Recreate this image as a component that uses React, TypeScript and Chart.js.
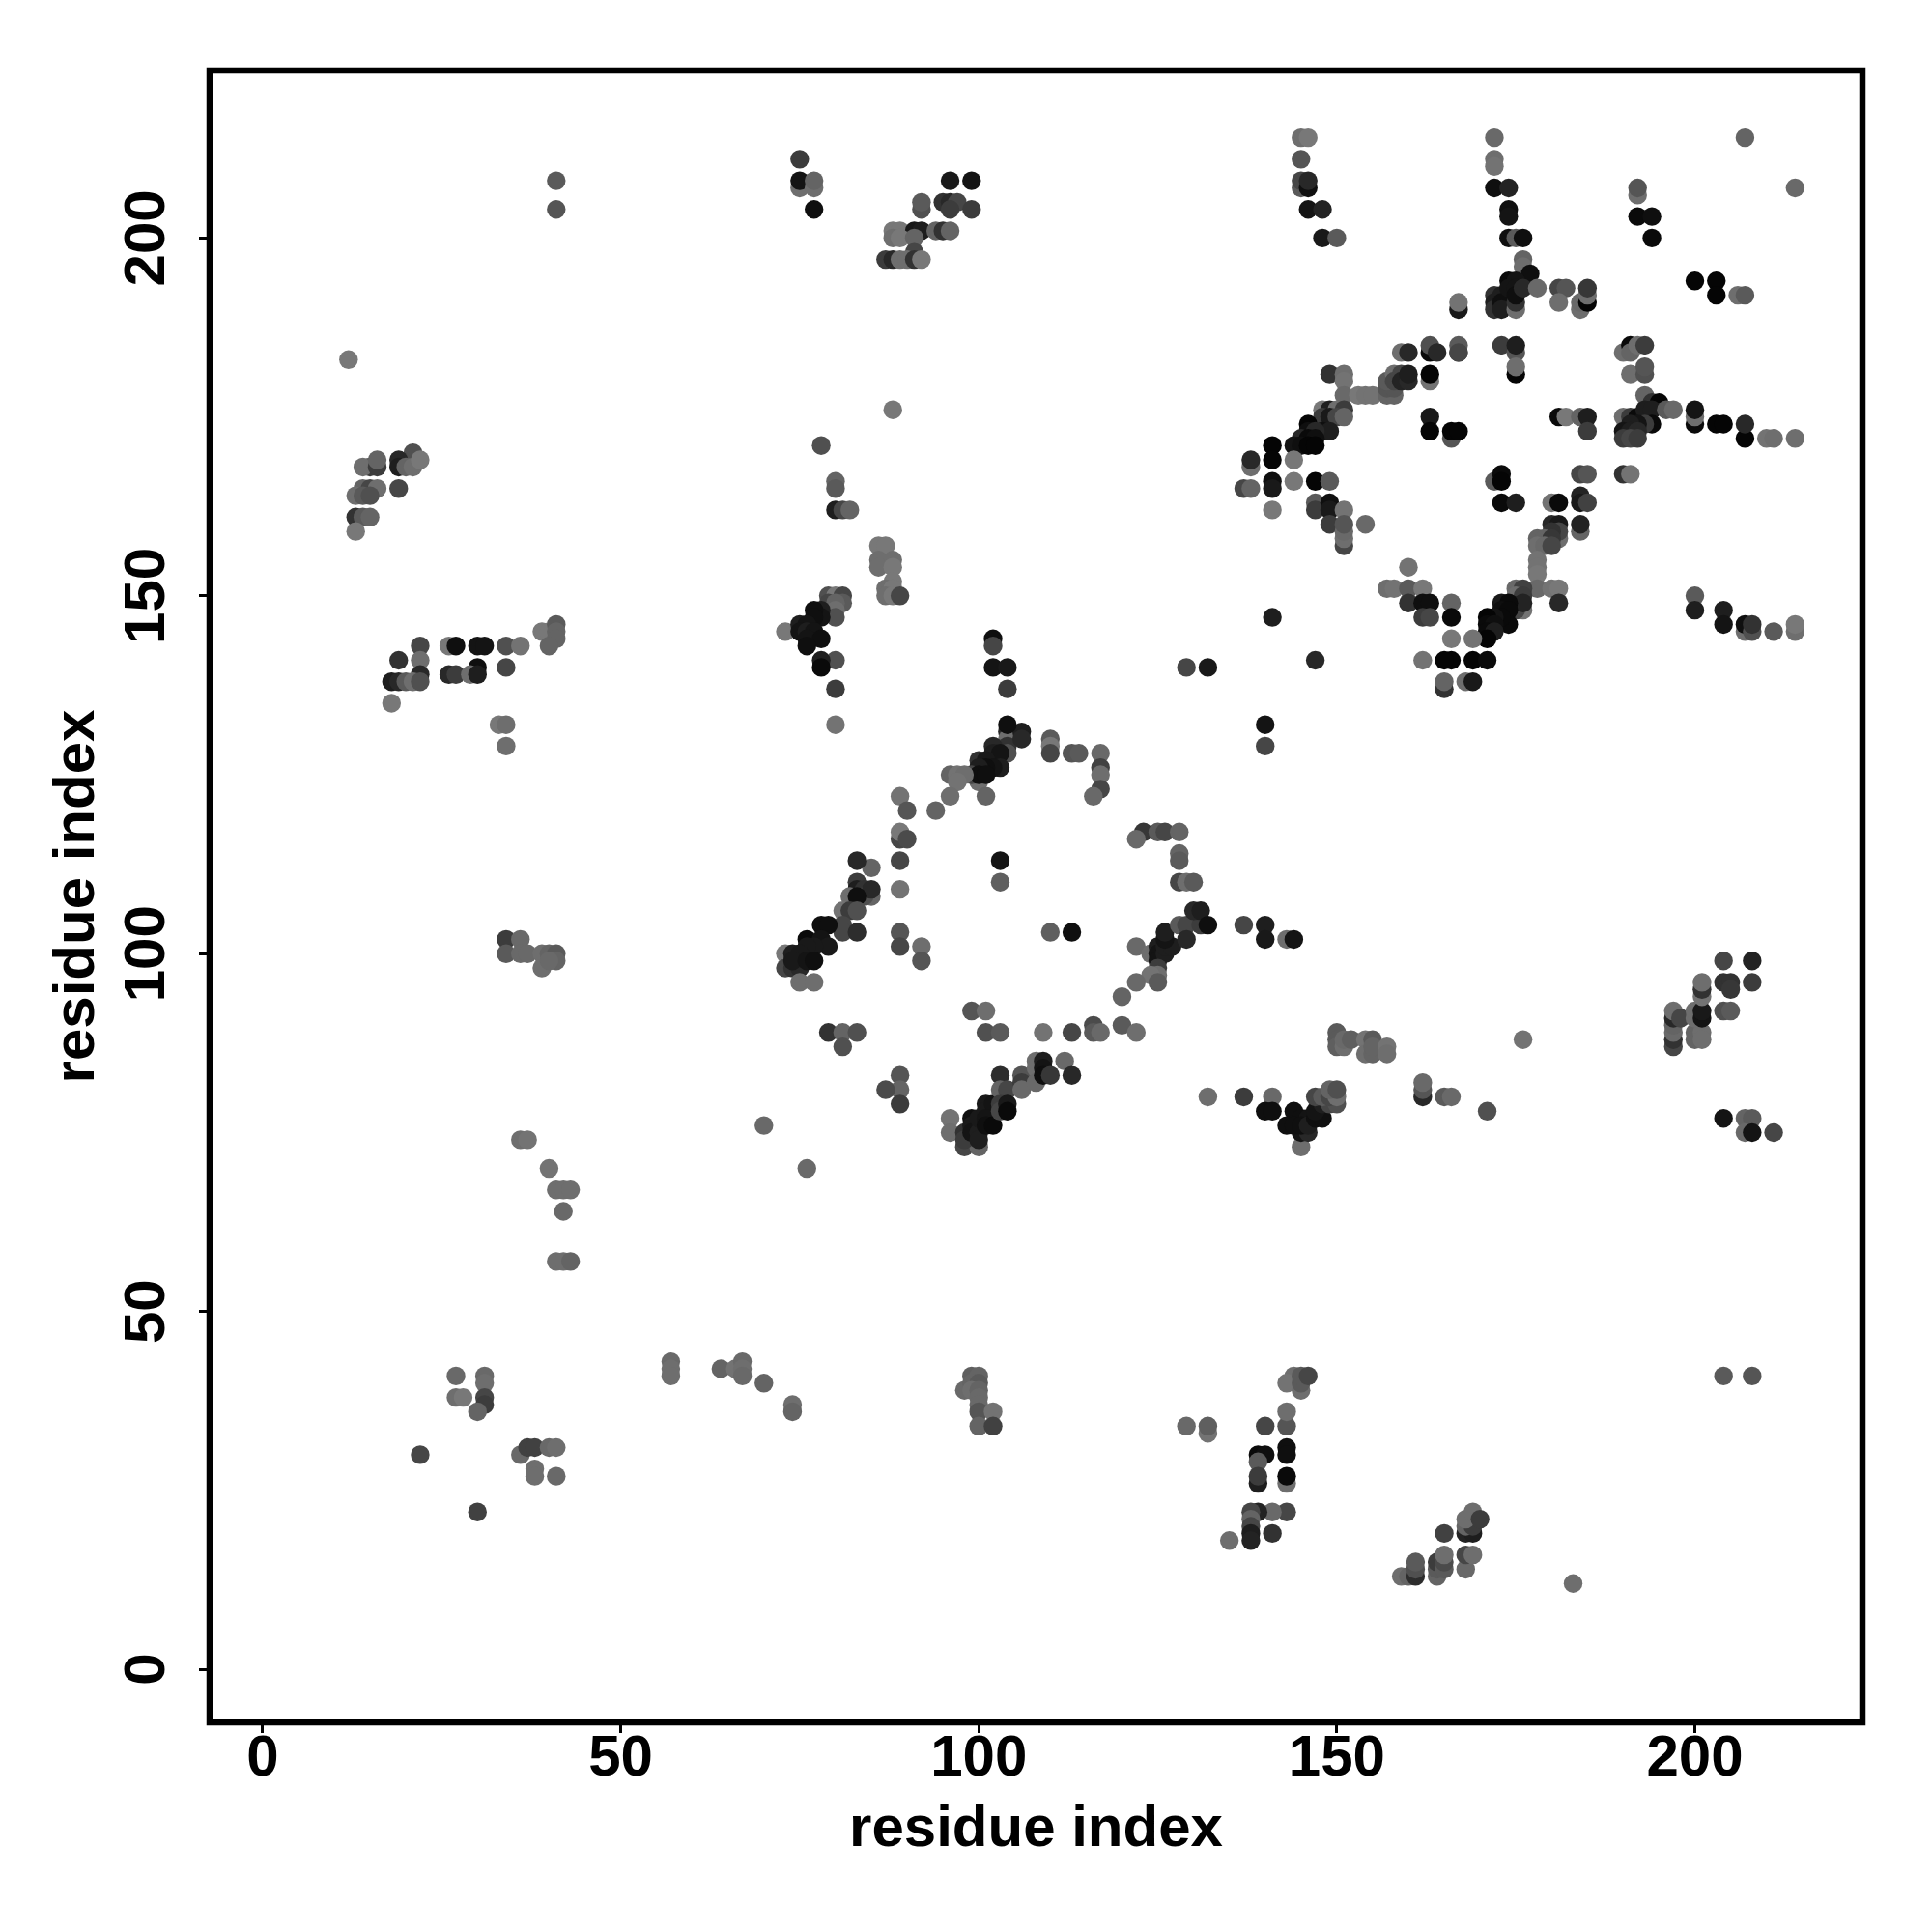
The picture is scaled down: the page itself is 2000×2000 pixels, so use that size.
import React, { useEffect, useRef } from "react";
import { Chart, registerables } from "chart.js";

Chart.register(...registerables);

// Each entry: [residue x, residue y, grey level]
const farLeft = [[41,208,90],[41,204,85],[12,183,120]];
const helixA = [[21,170,80],[19,169,40],[19,168,30],[20,168,100],[21,168,110],[22,169,120],[15,168,60],[14,168,110],[16,168,60],[16,169,100],[19,165,70],[14,165,100],[15,165,70],[16,165,110],[13,164,110],[14,164,90],[15,164,80],[13,161,50],[14,161,90],[15,161,100],[13,159,120]];
const stripA = [[26,143,120],[27,143,15],[30,143,20],[31,143,20],[22,143,70],[34,143,80],[36,143,115],[19,141,50],[22,141,110],[30,140,15],[34,140,70],[26,139,40],[27,139,60],[29,139,110],[30,139,30],[22,139,40],[18,138,30],[19,138,40],[20,138,90],[21,138,110],[22,138,80],[18,135,120],[33,132,120],[34,132,110],[34,129,110],[39,145,120],[40,145,120],[41,146,90],[41,145,100],[41,144,100],[40,143,100]];
const topA = [[75,211,60],[75,207,110],[75,208,20],[77,207,110],[77,208,100],[77,204,15]];
const topB = [[96,208,25],[99,208,20],[95,205,50],[96,205,40],[97,205,70],[96,204,60],[99,204,60],[92,204,80],[92,205,90],[88,201,120],[89,201,120],[91,201,25],[92,201,30],[94,201,100],[95,201,50],[96,201,100],[88,200,110],[89,200,120],[91,200,100],[91,198,70],[87,197,60],[88,197,40],[89,197,110],[90,197,110],[91,197,50],[92,197,120]];
const midColumn = [[88,176,120],[78,171,80],[80,166,100],[80,165,90],[80,162,30],[81,162,70],[82,162,100],[86,157,120],[87,157,120],[86,155,110],[88,155,110],[86,154,110],[88,154,120],[88,152,120],[87,151,110],[88,151,120],[87,150,110],[88,150,120],[89,150,70]];
const blackKnot = [[73,145,120],[79,150,80],[80,150,120],[81,150,70],[79,149,70],[81,149,90],[80,149,100],[80,148,110],[80,147,80],[78,148,30],[78,147,20],[77,148,15],[77,147,15],[75,146,30],[76,146,20],[75,145,20],[76,145,30],[77,145,20],[76,144,20],[78,144,15],[76,143,15],[80,141,80],[78,141,30],[78,140,10],[80,137,60],[80,132,115]];
const diamondOneUpper = [[110,130,90],[110,129,120],[110,128,70],[104,131,40],[104,130,110],[104,129,50],[104,128,80],[106,131,30],[106,130,40],[102,129,40],[102,128,30],[103,128,20],[100,127,50],[101,127,25],[103,126,30],[102,126,20],[101,126,15],[100,126,30],[100,124,110],[99,125,70],[100,125,15],[101,125,15],[104,132,15],[96,125,100],[97,125,115],[98,125,110],[97,124,115],[96,122,110],[101,122,100],[94,120,100],[89,122,115],[90,120,85],[89,116,70],[89,117,120],[90,116,75],[89,113,70],[89,109,115],[103,113,20],[103,110,95],[110,103,95],[113,103,15],[102,144,15],[102,143,70],[102,140,20],[104,140,25],[104,137,60],[113,128,85],[114,128,90],[117,128,105],[117,126,65],[117,125,110],[117,123,70],[116,122,105],[123,117,55],[122,116,105],[125,117,90],[126,117,70],[128,117,100],[128,114,100],[128,113,90],[128,110,70],[129,110,110],[130,110,90]];
const diamondOneLeft = [[85,112,100],[83,113,40],[83,110,60],[83,109,30],[84,109,50],[85,108,100],[84,108,80],[85,109,40],[82,108,110],[83,108,15],[81,106,115],[82,106,60],[83,106,80],[81,104,70],[81,103,70],[83,103,45],[78,104,15],[79,104,15],[76,102,10],[78,102,20],[79,101,25],[77,101,25],[76,101,25],[73,100,120],[74,100,30],[75,100,25],[73,98,70],[74,98,50],[75,98,40],[74,99,25],[76,99,20],[77,99,15],[75,96,110],[77,96,110],[89,103,85],[89,101,70],[92,101,110],[92,99,85]];
const diamondOneRight = [[122,101,105],[124,100,110],[125,101,30],[125,100,20],[125,99,20],[126,100,30],[126,101,30],[127,101,30],[126,102,20],[126,103,30],[128,104,90],[129,104,70],[129,102,40],[131,104,60],[130,106,40],[131,106,30],[132,104,15],[137,104,70],[140,104,30],[140,102,25],[143,102,110],[144,102,20],[125,98,60],[125,97,110],[124,97,115],[125,96,90],[122,96,105],[120,94,100],[120,90,90],[122,89,110],[116,90,75],[116,89,90],[117,89,105],[113,89,70],[109,89,115],[99,92,85],[101,92,110],[101,89,80],[103,89,90],[79,89,50],[81,89,100],[83,89,80],[81,87,80]];
const diamondOneLower = [[89,83,85],[89,81,100],[87,81,75],[89,79,60],[96,77,115],[96,75,110],[98,73,70],[100,73,100],[98,75,50],[98,74,60],[99,77,15],[99,76,25],[99,75,20],[100,75,30],[100,74,30],[100,77,25],[101,79,25],[101,78,25],[102,79,20],[101,77,20],[101,76,15],[102,76,10],[103,83,45],[103,81,100],[104,81,70],[103,79,60],[103,78,70],[104,79,25],[104,78,10],[106,83,85],[106,82,60],[106,81,105],[108,85,110],[108,84,110],[108,82,105],[109,85,30],[109,84,20],[109,83,15],[110,83,55],[112,85,105],[113,83,40]];
const leftMid = [[34,102,60],[36,102,105],[34,100,90],[36,100,105],[37,100,105],[39,100,110],[40,100,100],[41,100,90],[39,98,110],[41,99,100],[40,99,105],[70,76,105],[76,70,105],[36,74,110],[37,74,115],[40,70,115],[41,67,110],[42,67,110],[43,67,110],[42,64,105],[41,57,110],[42,57,110],[43,57,100]];
const lowerLeft = [[57,43,105],[57,42,110],[57,41,110],[64,42,100],[66,42,115],[67,43,105],[67,42,110],[67,41,105],[70,40,100],[74,37,110],[74,36,100],[27,41,105],[31,41,105],[31,40,110],[27,38,110],[28,38,120],[31,38,70],[31,37,60],[30,36,100],[22,30,70],[36,30,105],[37,31,65],[38,31,65],[40,31,105],[41,31,110],[38,28,110],[38,27,110],[41,27,105],[30,22,65]];
const rowEighty = [[132,80,110],[137,80,60],[141,80,105],[140,78,15],[141,78,15],[144,78,15],[143,76,15],[145,73,110],[145,75,20],[146,75,40],[145,77,15],[146,77,20],[144,76,15],[145,76,15],[146,76,30],[147,77,15],[148,77,15],[147,78,20],[148,79,30],[149,79,70],[150,79,80],[147,80,70],[148,80,90],[149,80,70],[150,80,110],[149,81,100],[150,81,80],[150,89,90],[150,88,90],[150,87,95],[151,87,110],[151,88,105],[152,88,95],[154,88,115],[155,88,90],[154,86,110],[155,86,100],[155,87,100],[157,87,115],[157,86,110],[162,80,40],[162,81,85],[162,82,105],[165,80,90],[166,80,105],[171,78,80],[176,88,115]];
const rightCluster = [[197,87,70],[197,88,50],[197,89,105],[197,90,100],[197,91,40],[197,92,110],[198,91,70],[200,89,100],[200,88,100],[201,89,110],[201,88,110],[200,91,110],[200,92,110],[201,91,20],[201,92,25],[201,94,115],[201,95,50],[201,96,110],[204,92,80],[205,92,90],[204,96,50],[205,96,50],[205,95,55],[208,96,60],[204,99,70],[208,99,35],[204,77,20],[207,77,100],[208,77,90],[207,75,105],[208,75,20],[211,75,70],[204,41,90],[208,41,85],[183,12,110]];
const lowerCentre = [[98,39,105],[99,41,95],[100,41,100],[99,40,100],[100,40,90],[99,39,110],[100,39,100],[100,38,105],[100,37,105],[100,36,85],[102,36,115],[100,34,100],[102,34,65],[129,34,105],[132,33,115],[132,34,95],[140,34,70],[143,34,85],[143,36,110],[143,31,15],[143,30,15],[139,30,10],[140,30,15],[139,29,90],[139,26,30],[139,27,60],[143,26,110],[143,27,10],[143,22,70],[141,22,105],[139,22,35],[138,22,70],[138,21,100],[138,20,70],[138,19,30],[138,18,35],[135,18,110],[141,19,50],[144,41,110],[143,40,115],[145,39,110],[145,40,90],[145,41,90],[146,41,70]];
const lowerRight = [[159,13,110],[160,13,100],[161,13,45],[161,14,80],[161,15,90],[164,13,100],[164,14,90],[164,15,60],[165,14,90],[165,15,75],[165,16,110],[165,19,65],[168,14,105],[168,16,70],[169,16,110],[168,19,35],[169,19,30],[168,20,100],[169,20,60],[168,21,110],[169,22,110],[170,21,60]];
const topRight = [[145,214,110],[146,214,120],[145,211,85],[145,207,90],[145,208,70],[146,207,15],[146,208,40],[146,204,20],[148,204,35],[148,200,25],[150,200,90],[172,214,105],[172,211,110],[172,210,115],[172,207,15],[174,207,35],[174,204,15],[174,203,20],[174,200,15],[175,200,90],[176,200,15],[207,214,100],[214,207,105],[192,206,110],[192,207,85],[192,203,10],[194,203,15],[194,200,10],[200,194,5],[203,194,5],[203,192,5],[206,192,110],[207,192,90]];
const knotUpper = [[167,190,25],[167,191,115],[176,197,100],[176,196,110],[177,195,15],[172,192,50],[172,191,30],[172,190,50],[173,192,30],[173,191,15],[173,190,30],[175,190,110],[175,191,50],[174,194,10],[175,194,20],[174,193,20],[175,193,20],[175,192,15],[176,193,40],[178,193,105],[181,193,70],[182,193,85],[181,191,110],[184,190,110],[184,191,105],[185,191,5],[185,192,110],[185,193,55],[167,184,70],[167,185,90],[173,185,60],[175,184,85],[175,185,30],[175,181,5],[175,182,110],[190,184,110],[191,185,10],[191,184,100],[192,185,110],[193,185,60],[191,181,110],[193,181,80],[193,182,85]];
const knotRight = [[193,178,100],[190,175,110],[191,175,60],[192,175,10],[193,175,15],[194,177,50],[195,177,5],[193,176,30],[194,176,30],[194,174,10],[193,174,60],[192,174,20],[191,174,30],[190,173,20],[191,173,30],[192,173,40],[190,172,60],[191,172,70],[192,172,60],[196,176,90],[197,176,105],[200,174,10],[200,175,110],[200,176,20],[203,174,5],[204,174,5],[207,172,5],[207,174,40],[210,172,115],[211,172,110],[214,172,110],[181,175,10],[182,175,120],[184,175,100],[185,175,30],[185,173,60],[166,172,85],[166,173,5],[167,173,5]];
const diamondTwoUpper = [[159,184,110],[160,184,40],[163,184,10],[163,185,80],[164,184,40],[167,184,70],[149,181,50],[151,181,110],[151,180,115],[151,178,105],[153,178,120],[154,178,115],[155,178,115],[157,178,100],[158,178,100],[157,179,85],[158,179,85],[157,180,90],[158,181,110],[159,181,70],[158,180,70],[159,180,35],[160,180,40],[160,181,30],[163,180,115],[163,181,5],[163,175,25],[163,173,5]];
const diamondTwoLeft = [[148,176,120],[149,176,30],[150,176,110],[151,176,60],[148,175,60],[149,175,25],[150,175,70],[151,175,100],[146,174,5],[148,173,15],[149,173,30],[146,173,15],[147,173,40],[145,172,40],[146,172,10],[147,172,15],[144,171,20],[145,171,15],[146,171,5],[147,171,5],[141,171,5],[141,169,5],[144,169,120],[138,168,110],[138,169,40],[141,166,15],[141,165,25],[137,165,70],[138,165,100],[144,166,120],[147,166,5],[149,166,90],[141,162,120],[147,163,90],[147,162,60],[149,163,15],[149,162,25],[149,160,60],[151,162,115],[151,157,70],[151,158,110],[151,159,105],[151,160,85],[154,160,105]];
const diamondTwoInner = [[172,166,90],[173,167,10],[173,166,5],[173,163,10],[175,163,30],[180,163,115],[181,163,10],[184,164,35],[184,163,25],[185,163,65],[184,167,70],[185,167,85],[190,167,50],[191,167,115],[184,159,100],[184,160,35],[180,160,40],[181,160,25],[181,158,110],[181,159,70],[180,159,50],[178,158,100],[179,158,100],[180,158,55],[178,157,110],[179,157,105],[180,157,70]];
const diamondTwoLower = [[178,155,115],[178,154,115],[178,153,120],[178,151,105],[180,151,115],[181,151,120],[181,149,40],[175,151,105],[176,151,65],[175,150,110],[176,150,60],[176,148,115],[175,148,70],[176,149,35],[173,149,25],[174,149,10],[173,148,15],[174,148,10],[174,146,10],[173,147,10],[172,147,20],[171,147,5],[171,146,10],[172,146,15],[171,145,10],[172,145,30],[171,144,5],[169,144,115],[166,144,120],[166,141,5],[165,141,5],[169,141,5],[171,141,10],[162,141,115],[168,138,110],[169,138,25],[165,137,50],[165,138,100],[166,149,100],[166,147,10],[160,154,115],[157,151,110],[158,151,115],[160,151,90],[162,151,120],[160,149,50],[162,149,15],[163,149,15],[162,147,60],[163,147,70]];
const farRight = [[129,140,70],[132,140,25],[141,147,30],[147,141,40],[140,132,20],[140,129,70],[200,150,90],[200,148,30],[204,148,30],[204,146,20],[207,145,110],[207,146,15],[208,145,80],[208,146,50],[211,145,90],[214,145,110],[214,146,120]];

const points = [
  farLeft, helixA, stripA, topA, topB, midColumn, blackKnot, diamondOneUpper, diamondOneLeft,
  diamondOneRight, diamondOneLower, leftMid, lowerLeft, rowEighty, rightCluster, lowerCentre,
  lowerRight, topRight, knotUpper, knotRight, diamondTwoUpper, diamondTwoLeft, diamondTwoInner,
  diamondTwoLower, farRight,
].flat();

const axisMin = -7.4;
const axisMax = 223.4;
const tickValues = [0, 50, 100, 150, 200];
const axisLabel = "residue index";

const frame = {
  id: "frame",
  afterDatasetsDraw(chart: any) {
    const { ctx, chartArea: a } = chart;
    ctx.save();
    ctx.strokeStyle = "#000";
    ctx.lineWidth = 6.5;
    ctx.lineJoin = "miter";
    ctx.strokeRect(a.left, a.top, a.right - a.left, a.bottom - a.top);
    ctx.restore();
  },
};

export default function App() {
  const ref = useRef<HTMLCanvasElement>(null);
  useEffect(() => {
    document.body.style.margin = "0";
    const font = { family: "'Liberation Sans', Arial, sans-serif", size: 60, weight: "bold" as const };
    const setTicks = (s: any) => {
      s.ticks = tickValues.map((value) => ({ value }));
    };
    const grid = { drawOnChartArea: false, drawTicks: true, tickLength: 11, tickWidth: 3, tickColor: "#000", color: "#000" };
    const chart = new Chart(ref.current!, {
      type: "scatter",
      data: {
        datasets: [
          {
            data: points.map((p) => ({ x: p[0], y: p[1] })),
            backgroundColor: points.map((p) => `rgb(${p[2]},${p[2]},${p[2]})`),
            pointRadius: 9.7,
            pointBorderWidth: 0,
            borderWidth: 0,
          },
        ],
      },
      options: {
        animation: false,
        responsive: false,
        devicePixelRatio: 1,
        layout: { padding: { left: 0, top: 73, right: 72, bottom: 0 } },
        plugins: { legend: { display: false }, tooltip: { enabled: false } },
        scales: {
          x: {
            type: "linear",
            min: axisMin,
            max: axisMax,
            afterFit: (s: any) => { s.height = 217; },
            afterBuildTicks: setTicks,
            grid,
            border: { display: false },
            ticks: { color: "#000", font, padding: -9, maxRotation: 0 },
            title: { display: true, text: axisLabel, color: "#000", font, padding: { top: 0, bottom: 70 } },
          },
          y: {
            type: "linear",
            min: axisMin,
            max: axisMax,
            afterFit: (s: any) => { s.width = 217; },
            afterBuildTicks: setTicks,
            grid,
            border: { display: false },
            ticks: { color: "#000", font, padding: 2, minRotation: 90, maxRotation: 90, crossAlign: "center" },
            title: { display: true, text: axisLabel, color: "#000", font, padding: { top: 44, bottom: 0 } },
          },
        },
      },
      plugins: [frame],
    });
    return () => chart.destroy();
  }, []);
  return <canvas ref={ref} width={2000} height={2000} style={{ display: "block", width: 2000, height: 2000 }} />;
}
